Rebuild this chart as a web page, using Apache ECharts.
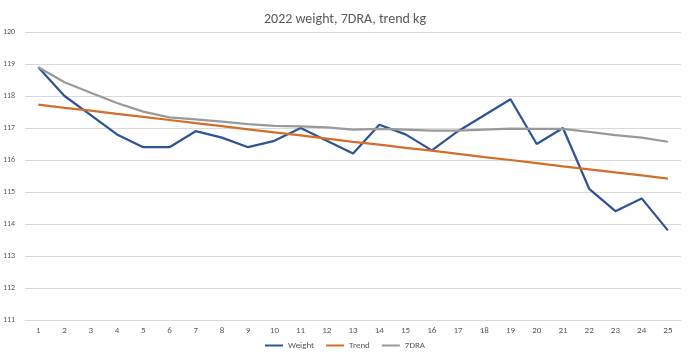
<!DOCTYPE html>
<html><head><meta charset="utf-8">
<script src="https://cdn.jsdelivr.net/npm/echarts@6/dist/echarts.min.js"></script>
<style>html,body{margin:0;padding:0;background:#fff}#c{width:690px;height:362px}</style>
</head><body><div id="c"></div>
<script>
const categories = ['1','2','3','4','5','6','7','8','9','10','11','12','13','14','15','16','17','18','19','20','21','22','23','24','25'];
const weight = [118.9,118.0,117.4,116.8,116.4,116.4,116.9,116.7,116.4,116.6,117.0,116.6,116.2,117.1,116.8,116.3,116.9,117.4,117.9,116.5,117.0,115.1,114.4,114.8,113.8];
const trend = [117.73,117.63,117.54,117.44,117.35,117.25,117.15,117.06,116.96,116.86,116.77,116.67,116.57,116.48,116.38,116.29,116.19,116.09,116.00,115.90,115.80,115.71,115.61,115.52,115.42];
const dra7 = [118.9,118.43,118.1,117.78,117.51,117.33,117.27,117.2,117.12,117.07,117.05,117.02,116.95,116.97,116.95,116.92,116.92,116.95,116.98,116.97,116.97,116.88,116.78,116.7,116.57];
const chart = echarts.init(document.getElementById('c'));
const font = 'Calibri, "Liberation Sans", "Open Sans", sans-serif';
function s(name, data, color){return {name, type:'line', data, symbol:'none', smooth:false, lineStyle:{width:2.25,color}, itemStyle:{color}, animation:false};}
chart.setOption({
  animation:false,
  title:{text:'2022 weight, 7DRA, trend kg', left:'center', top:7, textStyle:{fontFamily:font, fontSize:14, fontWeight:'normal', color:'#595959'}},
  legend:{bottom:7, left:'center', itemWidth:18, itemHeight:2, itemGap:12, icon:'rect', textStyle:{fontFamily:font, fontSize:9, color:'#595959'}, data:['Weight','Trend','7DRA']},
  grid:{left:22, right:9, top:32, bottom:42, containLabel:false},
  xAxis:{type:'category', data:categories, boundaryGap:true, axisLine:{show:true, lineStyle:{color:'#d9d9d9'}}, axisTick:{show:false}, axisLabel:{fontFamily:font, fontSize:9, color:'#595959', margin:6}},
  yAxis:{type:'value', min:111, max:120, interval:1, axisLine:{show:false}, axisTick:{show:false}, splitLine:{lineStyle:{color:'#d9d9d9', width:1}}, axisLabel:{fontFamily:font, fontSize:8, color:'#595959', margin:10}},
  series:[s('Weight', weight, '#2F5496'), s('Trend', trend, '#D26E2A'), s('7DRA', dra7, '#999999')]
});
</script></body></html>
